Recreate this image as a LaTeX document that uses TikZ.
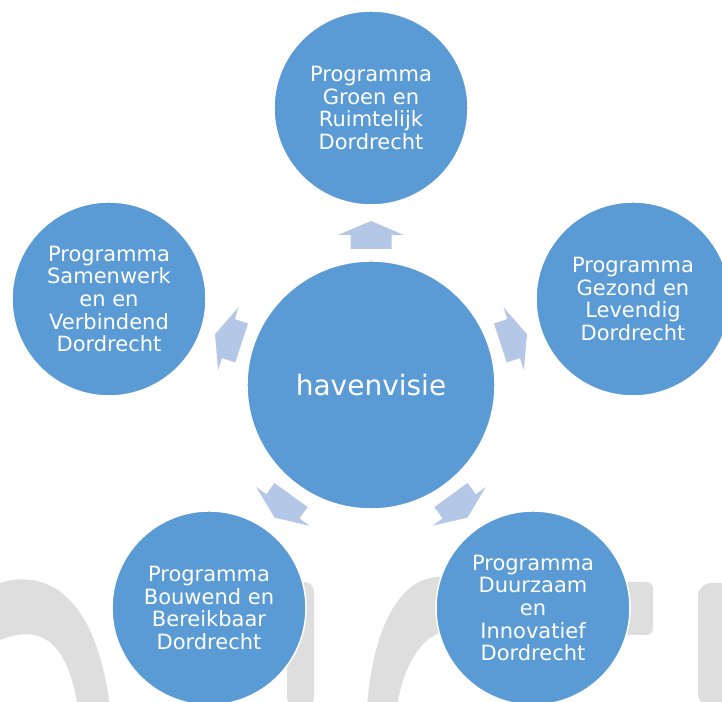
\documentclass[tikz,border=0pt]{standalone}
\usepackage{fontspec}
\setmainfont{DejaVu Sans}
\definecolor{progblue}{HTML}{5B9BD5}
\definecolor{pijlblue}{HTML}{B4C7E7}
\definecolor{wmgray}{HTML}{DEDEDE}

\begin{document}
\begin{tikzpicture}[x=0.75pt,y=0.75pt,
    prog/.style={circle,fill=progblue,draw=white,line width=1.1pt,minimum size=145.5pt,inner sep=0pt,text=white,align=center,font=\fontsize{15.75}{17}\selectfont},
    hub/.style={prog,minimum size=186pt,font=\fontsize{21}{25}\selectfont},
    pijl/.style={fill=pijlblue},
    wm/.style={fill=wmgray}]
        \useasboundingbox (0,0) rectangle (722,702);
        \fill[wm] (0,119) .. controls (40,132) and (95,115) .. (110,-5) -- (78,-5) .. controls (68,55) and (45,80) .. (0,62) -- cycle;
        \fill[wm,rounded corners=7] (287,-5) -- (287,120) -- (314,120) -- (314,-5) -- cycle;
        \fill[wm] (367,-5) .. controls (373,75) and (400,125) .. (440,125) -- (640,120) [rounded corners=5] -- (653,120) -- (653,67) [sharp corners] -- (640,67) -- (440,69) .. controls (418,62) and (402,30) .. (397,-5) -- cycle;
        \fill[wm,rounded corners=10] (698,-5) -- (698,119) -- (740,119) -- (740,-5) -- cycle;
        \node[hub] (hv) at (371,317) {havenvisie};
        \node[prog] (groen) at (371,594) {Programma\\Groen en\\Ruimtelijk\\Dordrecht};
        \node[prog] (gezond) at (633,403) {Programma\\Gezond en\\Levendig\\Dordrecht};
        \node[prog] (samen) at (109,403) {Programma\\Samenwerk\\en en\\Verbindend\\Dordrecht};
        \node[prog] (bouwend) at (209,94) {Programma\\Bouwend en\\Bereikbaar\\Dordrecht};
        \node[prog] (duurzaam) at (533,94) {Programma\\Duurzaam\\en\\Innovatief\\Dordrecht};
        \foreach \ang in {90,18,162,234,306}
            \fill[pijl,shift={(hv.center)},rotate=\ang] (136,-20.5) -- (150,-20.5) -- (150,-33) -- (164,0) -- (150,33) -- (150,20.5) -- (136,20.5) -- cycle;
    \end{tikzpicture}
\end{document}
